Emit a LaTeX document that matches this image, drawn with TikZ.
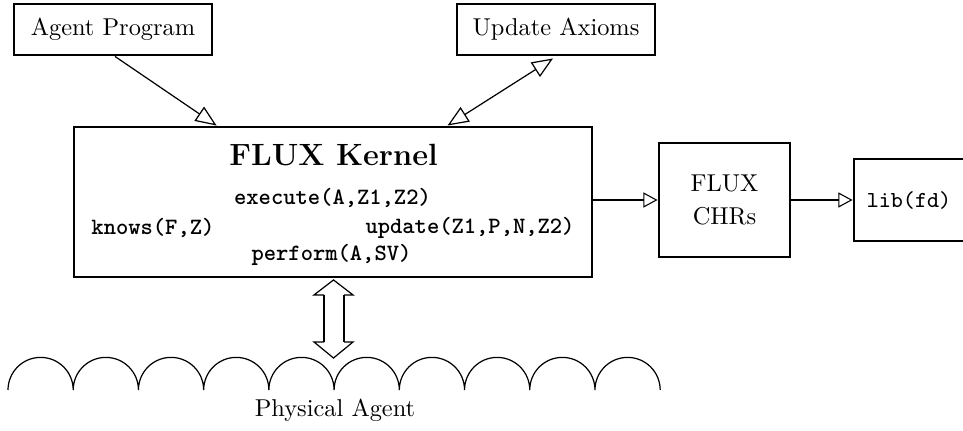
\documentclass[tikz,border=0pt]{standalone}
\usetikzlibrary{arrows.meta,calc}
\def\u{0.41pt}
\begin{document}
\begin{tikzpicture}[x=\u, y=-\u,
  box/.style={draw, line width=1.2pt, inner sep=0pt, align=center, font=\fontsize{10}{13.5}\selectfont},
  code/.style={inner sep=0pt, font=\fontsize{9.6}{11}\selectfont\ttfamily\bfseries},
  thinline/.style={line width=0.5pt},
  feed/.style={line width=1.1pt, -{Triangle[open, length=5.8pt, width=6.2pt, line width=0.45pt]}},
  flow/.style={line width=0.5pt, -{Triangle[open, length=8.6pt, width=7pt]}},
  flowboth/.style={line width=0.5pt, {Triangle[open, length=8.6pt, width=7pt]}-{Triangle[open, length=8.6pt, width=7pt]}}]

\useasboundingbox (0,0) rectangle (963,431);

% boxes
\node[box, minimum width=198*\u, minimum height=51*\u] (prog) at (113,29.5) {Agent Program};
\node[box, minimum width=198*\u, minimum height=51*\u] (upd) at (556,29.5) {Update Axioms};
\node[box, minimum width=518*\u, minimum height=150*\u] (kernel) at (333,202) {};
\node[box, minimum width=131*\u, minimum height=114*\u] (chr) at (724.5,200) {FLUX\\CHRs};
\node[box, minimum width=114*\u, minimum height=82*\u, text width=0pt] (lib) at (911,200) {};
\node[inner sep=0pt, font=\fontsize{9.4}{11}\selectfont\ttfamily] (libtxt) at (909,200) {lib(fd)};

% kernel contents
\node[inner sep=0pt, font=\fontsize{12.6}{15}\selectfont\bfseries] (title) at (333.5,155) {FLUX Kernel};
\node[code] (exec) at (332.5,198) {execute(A,Z1,Z2)};
\node[code, anchor=west] (knows) at (91,228) {knows(F,Z)};
\node[code, anchor=east] (update) at (575,228) {update(Z1,P,N,Z2)};
\node[code] (perform) at (331.5,255) {perform(A,SV)};

% connectors
\draw[flow] ($(prog.south)+(2,0)$) -- ($(kernel.north west)+(144,0)$);
\draw[flowboth] ($(kernel.north west)+(375,0)$) -- ($(upd.south)+(-3,2)$);
\draw[feed] (kernel.east |- chr.west) -- (chr.west);
\draw[feed] (chr.east) -- (lib.west);

% physical agent: row of arches
\coordinate (agent) at (333.5,358);
\draw[thinline] (8,390) \foreach \i in {1,...,10} { arc[start angle=180, end angle=0, radius=13.37pt] };
\node[inner sep=0pt, font=\fontsize{10}{12}\selectfont] (pa) at (335,410) {Physical Agent};

% hollow double arrow between kernel and agent
\coordinate (top) at ($(kernel.south)+(0.5,1.5)$);
\draw[thinline] ($(top)+(-9.5,15)$) -- ($(top)+(-19.5,15)$) -- (top) -- ($(top)+(19.5,15)$) -- ($(top)+(10.5,15)$);
\draw[thinline] ($(agent)+(-9.5,-16)$) -- ($(agent)+(-19.5,-16)$) -- (agent) -- ($(agent)+(19.5,-16)$) -- ($(agent)+(10.5,-16)$);
\draw[line width=1.1pt] ($(top)+(-9.5,15)$) -- ($(agent)+(-9.5,-16)$);
\draw[line width=1.1pt] ($(top)+(10.5,15)$) -- ($(agent)+(10.5,-16)$);
\end{tikzpicture}
\end{document}
